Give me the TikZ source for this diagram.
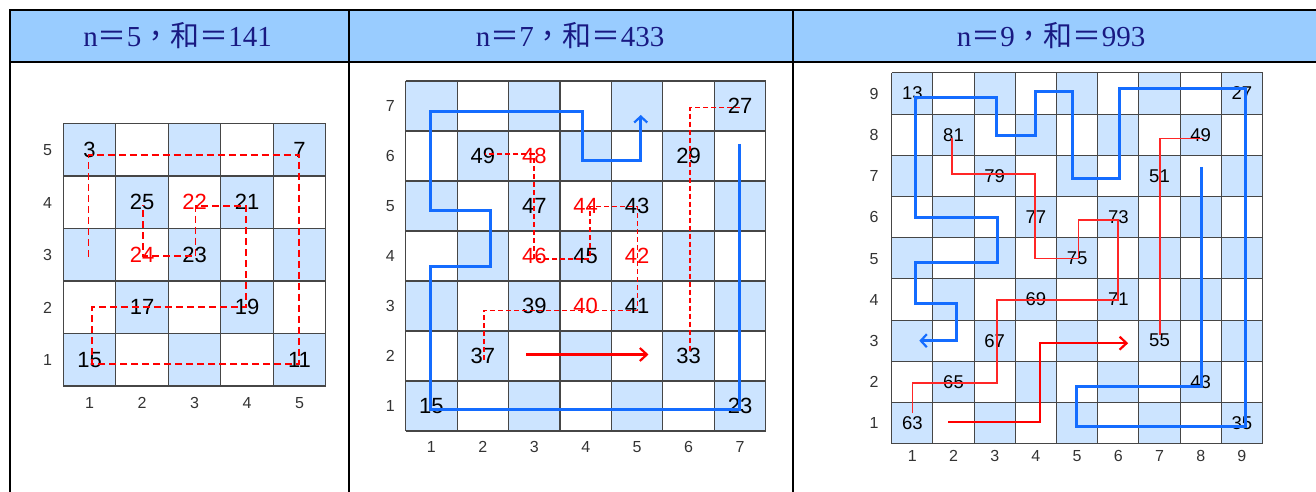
\documentclass[tikz,border=0pt]{standalone}
\usepackage{fontspec}
\setmainfont{Liberation Serif}
\setsansfont{Liberation Sans}
\newfontfamily\cjk{Noto Sans CJK TC}
\usetikzlibrary{arrows.meta}

\definecolor{headblue}{HTML}{99CCFF}
\definecolor{cellblue}{HTML}{CCE4FF}
\definecolor{headtext}{RGB}{25,25,130}
\definecolor{pathblue}{RGB}{20,108,255}
\definecolor{gridgray}{RGB}{70,70,70}

\tikzset{
  rule/.style={draw=black, line width=2.6pt},
  header/.style={font=\fontsize{29}{29}\selectfont, text=headtext},
  cell/.style={draw=gridgray, line width=1.1pt},
  num/.style={font=\sffamily\fontsize{22}{22}\selectfont, text=black, inner sep=0pt},
  smallnum/.style={num, font=\sffamily\fontsize{18.5}{18.5}\selectfont},
  rednum/.style={num, text=red},
  axislabel/.style={font=\sffamily\fontsize{16}{16}\selectfont, text=black!80,
    inner sep=0pt, text height=11.5pt, text depth=0pt},
  bluepath/.style={draw=pathblue, line width=3pt},
  bluearrow/.style={bluepath, -{Straight Barb[length=6pt,width=13pt,line width=2.2pt]}},
  reddash/.style={draw=red, line width=1.7pt, dash pattern=on 7pt off 4pt},
  reddashsmall/.style={draw=red, line width=1.5pt, dash pattern=on 5pt off 3pt},
  redline/.style={draw=red!85, line width=1.6pt},
  redarrow/.style={draw=red, line width=2.6pt, -{Straight Barb[length=7pt,width=13pt,line width=2.2pt]}}
}

\begin{document}
\begin{tikzpicture}[x=1pt, y=-1pt]
  \useasboundingbox (0,0) rectangle (1316,492);

  % table frame
  \fill[headblue] (10,10) rectangle (1316,62);
  \draw[rule] (10,492) -- (10,10) -- (1316,10);
  \draw[rule] (10,62) -- (1316,62);
  \draw[rule] (349,10) -- (349,492);
  \draw[rule] (793,10) -- (793,492);

  \node[header] (head5) at (177.5,36) {n{\cjk ＝}5{\cjk ，和＝}141};
  \node[header] (head7) at (570,36) {n{\cjk ＝}7{\cjk ，和＝}433};
  \node[header] (head9) at (1051,36) {n{\cjk ＝}9{\cjk ，和＝}993};

  % n = 5
  \begin{scope}[shift={(63.3,386)}, x=52.5pt, y=52.5pt]
    \foreach \c in {1,...,5}
      \foreach \r in {1,...,5} {
        \pgfmathparse{int(mod(\c+\r,2))}
        \ifnum\pgfmathresult=0 \fill[cellblue] (\c-1,\r-1) rectangle (\c,\r); \fi
      }
    \foreach \i in {0,...,5} {
      \draw[cell] (\i,0) -- (\i,5);
      \draw[cell] (0,\i) -- (5,\i);
    }
    \foreach \i in {1,...,5} {
      \node[axislabel] at (-0.30,\i-0.5) {\i};
      \node[axislabel] at (\i-0.5,-0.32) {\i};
    }
    \node[num] (a3) at (0.5,4.5) {3};
    \node[num] (a7) at (4.5,4.5) {7};
    \node[num] (a25) at (1.5,3.5) {25};
    \node[rednum] (a22) at (2.5,3.5) {22};
    \node[num] (a21) at (3.5,3.5) {21};
    \node[rednum] (a24) at (1.5,2.5) {24};
    \node[num] (a23) at (2.5,2.5) {23};
    \node[num] (a17) at (1.5,1.5) {17};
    \node[num] (a19) at (3.5,1.5) {19};
    \node[num] (a15) at (0.5,0.5) {15};
    \node[num] (a11) at (4.5,0.5) {11};

    \draw[reddash] (0.48,2.46) -- (0.48,4.40) -- (4.49,4.40) -- (4.49,0.42)
      -- (0.55,0.42) -- (0.55,1.51) -- (3.48,1.51) -- (3.48,3.43)
      -- (2.52,3.43) -- (2.52,2.48) -- (1.52,2.48) -- (1.52,3.45);
  \end{scope}

  % n = 7
  \begin{scope}[shift={(405.7,431)}, x=51.43pt, y=50pt]
    \foreach \c in {1,...,7}
      \foreach \r in {1,...,7} {
        \pgfmathparse{int(mod(\c+\r,2))}
        \ifnum\pgfmathresult=0 \fill[cellblue] (\c-1,\r-1) rectangle (\c,\r); \fi
      }
    \foreach \i in {0,...,7} {
      \draw[cell] (\i,0) -- (\i,7);
      \draw[cell] (0,\i) -- (7,\i);
    }
    \foreach \i in {1,...,7} {
      \node[axislabel] at (-0.30,\i-0.5) {\i};
      \node[axislabel] at (\i-0.5,-0.31) {\i};
    }
    \node[num] (b27) at (6.5,6.5) {27};
    \node[num] (b49) at (1.5,5.5) {49};
    \node[rednum] (b48) at (2.5,5.5) {48};
    \node[num] (b29) at (5.5,5.5) {29};
    \node[num] (b47) at (2.5,4.5) {47};
    \node[rednum] (b44) at (3.5,4.5) {44};
    \node[num] (b43) at (4.5,4.5) {43};
    \node[rednum] (b46) at (2.5,3.5) {46};
    \node[num] (b45) at (3.5,3.5) {45};
    \node[rednum] (b42) at (4.5,3.5) {42};
    \node[num] (b39) at (2.5,2.5) {39};
    \node[rednum] (b40) at (3.5,2.5) {40};
    \node[num] (b41) at (4.5,2.5) {41};
    \node[num] (b37) at (1.5,1.5) {37};
    \node[num] (b33) at (5.5,1.5) {33};
    \node[num] (b15) at (0.5,0.5) {15};
    \node[num] (b23) at (6.5,0.5) {23};

    \draw[reddashsmall] (6.50,6.47) -- (5.53,6.47) -- (5.53,1.56);
    \draw[reddashsmall] (1.52,1.42) -- (1.52,2.41) -- (4.51,2.41) -- (4.51,4.49)
      -- (3.58,4.49) -- (3.58,3.44) -- (2.49,3.44) -- (2.49,5.54) -- (1.54,5.54);
    \draw[bluearrow] (6.49,5.74) -- (6.49,0.43) -- (0.49,0.43) -- (0.49,3.30)
      -- (1.64,3.30) -- (1.64,4.41) -- (0.49,4.41) -- (0.49,6.39) -- (3.44,6.39)
      -- (3.44,5.41) -- (4.57,5.41) -- (4.57,6.32);
    \draw[redarrow] (2.34,1.53) -- (4.72,1.53);
  \end{scope}

  % n = 9
  \begin{scope}[shift={(891.7,443.7)}, x=41.2pt, y=41.2pt]
    \foreach \c in {1,...,9}
      \foreach \r in {1,...,9} {
        \pgfmathparse{int(mod(\c+\r,2))}
        \ifnum\pgfmathresult=0 \fill[cellblue] (\c-1,\r-1) rectangle (\c,\r); \fi
      }
    \foreach \i in {0,...,9} {
      \draw[cell] (\i,0) -- (\i,9);
      \draw[cell] (0,\i) -- (9,\i);
    }
    \foreach \i in {1,...,9} {
      \node[axislabel] at (-0.43,\i-0.5) {\i};
      \node[axislabel] at (\i-0.5,-0.30) {\i};
    }
    \node[smallnum] (c13) at (0.5,8.5) {13};
    \node[smallnum] (c27) at (8.5,8.5) {27};
    \node[smallnum] (c81) at (1.5,7.5) {81};
    \node[smallnum] (c49) at (7.5,7.5) {49};
    \node[smallnum] (c79) at (2.5,6.5) {79};
    \node[smallnum] (c51) at (6.5,6.5) {51};
    \node[smallnum] (c77) at (3.5,5.5) {77};
    \node[smallnum] (c73) at (5.5,5.5) {73};
    \node[smallnum] (c75) at (4.5,4.5) {75};
    \node[smallnum] (c69) at (3.5,3.5) {69};
    \node[smallnum] (c71) at (5.5,3.5) {71};
    \node[smallnum] (c67) at (2.5,2.5) {67};
    \node[smallnum] (c55) at (6.5,2.5) {55};
    \node[smallnum] (c65) at (1.5,1.5) {65};
    \node[smallnum] (c43) at (7.5,1.5) {43};
    \node[smallnum] (c63) at (0.5,0.5) {63};
    \node[smallnum] (c35) at (8.5,0.5) {35};

    \draw[redline] (0.50,0.74) -- (0.50,1.48) -- (2.55,1.48) -- (2.55,3.49)
      -- (5.49,3.49) -- (5.49,5.43) -- (4.53,5.43) -- (4.53,4.50) -- (3.48,4.50)
      -- (3.48,6.55) -- (1.46,6.55) -- (1.46,7.41);
    \draw[redline] (7.56,7.41) -- (6.51,7.41) -- (6.51,2.64);
    \draw[bluearrow] (7.52,6.72) -- (7.52,1.40) -- (4.49,1.40) -- (4.49,0.41)
      -- (8.58,0.41) -- (8.58,8.63) -- (5.52,8.63) -- (5.52,6.44) -- (4.39,6.44)
      -- (4.39,8.54) -- (3.48,8.54) -- (3.48,7.47) -- (2.55,7.47) -- (2.55,8.41)
      -- (0.58,8.41) -- (0.58,5.50) -- (2.57,5.50) -- (2.57,4.39) -- (0.58,4.39)
      -- (0.58,3.41) -- (1.58,3.41) -- (1.58,2.50) -- (0.67,2.50);
    \draw[redarrow] (1.37,0.53) -- (3.60,0.53) -- (3.60,2.44) -- (5.74,2.44);
  \end{scope}
\end{tikzpicture}
\end{document}
